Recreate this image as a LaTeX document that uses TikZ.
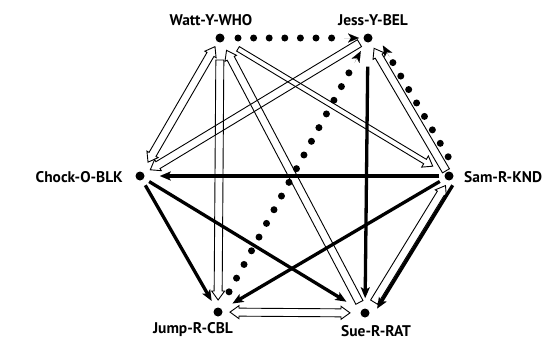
\documentclass[tikz,border=0pt]{standalone}
\usepackage{fontspec}
\setmainfont{PT Sans}
\usetikzlibrary{calc,arrows.meta}
% hollow arrow: [half width]{from}{to}{shorten at start}{shorten at end}
\newcommand\harrow[5][4bp]{%
  \coordinate (ha) at ($(#2)!#4!(#3)$);
  \coordinate (hb) at ($(#3)!#5!(#2)$);
  \coordinate (hc) at ($(hb)!9bp!(ha)$);
  \draw[hol] ($(ha)!#1!90:(hb)$) -- ($(hc)!#1!-90:(ha)$) -- ($(hc)!6.5bp!-90:(ha)$)
    -- (hb) -- ($(hc)!6.5bp!90:(ha)$) -- ($(hc)!#1!90:(ha)$) -- ($(ha)!#1!-90:(hb)$) -- cycle;
}
% hollow double-headed arrow
\newcommand\hdarrow[5][4bp]{%
  \coordinate (ha) at ($(#2)!#4!(#3)$);
  \coordinate (hb) at ($(#3)!#5!(#2)$);
  \coordinate (hc) at ($(hb)!9bp!(ha)$);
  \coordinate (hd) at ($(ha)!9bp!(hb)$);
  \draw[hol] (ha) -- ($(hd)!6.5bp!90:(hb)$) -- ($(hd)!#1!90:(hb)$) -- ($(hc)!#1!-90:(ha)$)
    -- ($(hc)!6.5bp!-90:(ha)$) -- (hb) -- ($(hc)!6.5bp!90:(ha)$) -- ($(hc)!#1!90:(ha)$)
    -- ($(hd)!#1!-90:(hb)$) -- ($(hd)!6.5bp!-90:(hb)$) -- cycle;
}
% dotted arrow: {from}{to}{dots start}{dots end (from target)}{tip base}{tip end}
\newcommand\dotarr[6]{%
  \draw[dots] ($(#1)!#3!(#2)$) -- ($(#2)!#4!(#1)$);
  \draw[dtip] ($(#2)!#5!(#1)$) -- ($(#2)!#6!(#1)$);
}
\begin{document}
\begin{tikzpicture}[x=1bp,y=1bp,
  pt/.style={circle, fill=black, inner sep=0pt, minimum size=9bp},
  lbl/.style={font=\bfseries\fontsize{15.5}{16}\selectfont, inner sep=0pt},
  hol/.style={draw=black, line width=0.9bp, line join=miter},
  blk/.style={line width=3.3bp, -{Stealth[length=11bp,width=9bp,inset=2.5bp]}},
  dots/.style={line width=7bp, line cap=round, dash pattern=on 0bp off 15.6bp},
  dtip/.style={line width=0.01bp, -{Stealth[length=11bp,width=9bp,inset=3bp]}}]
\useasboundingbox (0,0) rectangle (559,346);
% nodes
\node[pt] (W) at (220,308) {};
\node[pt] (J) at (368,308) {};
\node[pt] (C) at (140,170) {};
\node[pt] (S) at (449,170) {};
\node[pt] (P) at (218,34) {};
\node[pt] (U) at (365,33) {};
% labels
\node[lbl, anchor=base] (Wl) at (211,321) {Watt-Y-WHO};
\node[lbl, anchor=base] (Jl) at (373,321) {Jess-Y-BEL};
\node[lbl, anchor=base east] (Cl) at (123,164) {Chock-O-BLK};
\node[lbl, anchor=base west] (Sl) at (464,164) {Sam-R-KND};
\node[lbl, anchor=base east] (Pl) at (233,13) {Jump-R-CBL};
\node[lbl, anchor=base west] (Ul) at (341,10) {Sue-R-RAT};
% offset coordinates on the Sam--Jess and Sam--Sue sides
\coordinate (S1) at ($(S)!9bp!-90:(J)$);
\coordinate (J1) at ($(J)!9bp!90:(S)$);
\coordinate (S2) at ($(S)!8bp!90:(U)$);
\coordinate (U2) at ($(U)!8bp!-90:(S)$);
\coordinate (S3) at ($(S)!2bp!90:(U)$);
\coordinate (U3) at ($(U)!2bp!-90:(S)$);
% dotted arrows
\dotarr{W}{J}{18bp}{36bp}{24bp}{9bp}
\dotarr{P}{J}{23bp}{36bp}{28bp}{15bp}
\dotarr{S1}{J1}{17bp}{32bp}{27bp}{14bp}
% hollow arrows
\harrow{S}{J}{6bp}{12bp}
\hdarrow{W}{C}{10bp}{16bp}
\harrow{W}{P}{22bp}{12bp}
\harrow{U}{W}{12bp}{14bp}
\harrow[2.6bp]{W}{S}{21bp}{19bp}
\harrow{J}{C}{10bp}{12bp}
\harrow{U3}{S3}{14bp}{10bp}
\hdarrow{P}{U}{12bp}{15bp}
% black arrows
\draw[blk, shorten <=5bp, shorten >=15bp] (S) -- (C);
\draw[blk, shorten <=6bp, shorten >=17bp] (C) -- (U);
\draw[blk, shorten <=6bp, shorten >=8bp] (C) -- (P);
\draw[blk, shorten <=6bp, shorten >=12bp] (S) -- (P);
\draw[blk, shorten <=6bp, shorten >=10bp] (S2) -- (U2);
\draw[blk, shorten <=24bp, shorten >=10bp] (J) -- (U);
\end{tikzpicture}
\end{document}
